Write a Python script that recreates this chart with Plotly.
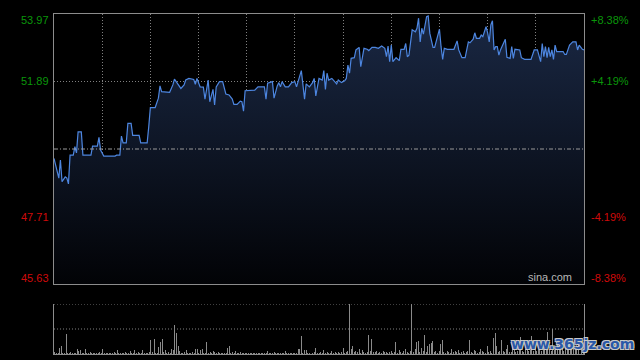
import plotly.graph_objects as go

# ---------------- data ----------------
pre_close = 49.80

minutes = [0, 2, 3, 4, 5, 7, 8, 9, 10, 12, 13, 14, 15, 17, 18, 23, 24, 27, 28, 29,
           31, 38, 39, 41, 42, 43, 45, 46, 48, 49, 53, 54, 58, 59, 60, 63, 65, 66, 67, 72,
           74, 75, 77, 79, 81, 82, 84, 87, 88, 89, 91, 93, 94, 96, 97, 99, 100, 101, 103, 105,
           107, 109, 111, 112, 114, 116, 117, 118, 119, 125, 127, 131, 132, 133, 136, 137, 139, 140, 141, 142,
           144, 146, 148, 150, 151, 154, 156, 157, 159, 161, 162, 163, 165, 167, 168, 169, 170, 171, 173, 174,
           176, 177, 179, 181, 182, 183, 184, 185, 187, 188, 190, 191, 193, 195, 196, 198, 200, 202, 204, 206,
           207, 208, 209, 210, 211, 213, 215, 216, 218, 219, 220, 221, 222, 223, 225, 226, 227, 228, 229, 230,
           232, 233, 234, 236, 237, 239, 240, 241, 242, 243, 245, 247, 249, 251, 252, 254, 256, 258, 259, 261,
           262, 263, 265, 266, 267, 268, 269, 270, 271, 272, 273, 274, 275, 276, 277, 278, 279, 281, 282, 284,
           285, 286, 287, 290, 291, 293, 297, 299, 301, 302, 303, 304, 305, 306, 307, 308, 309, 310, 311, 312,
           313, 317, 318, 319, 321, 323, 325, 326, 327, 329, 330]

prices = [49.51, 49.15, 48.90, 49.46, 48.79, 48.94, 48.90, 48.72, 49.61, 49.61, 49.87, 49.68, 50.33, 50.33, 49.61, 49.61, 49.89, 49.89, 50.16, 49.77,
          49.58, 49.58, 49.61, 49.61, 50.20, 49.99, 49.99, 50.59, 50.59, 50.22, 50.22, 49.99, 49.99, 50.49, 51.08, 51.08, 51.37, 51.75, 51.57, 51.55,
          51.78, 51.96, 51.83, 51.67, 51.78, 51.93, 51.98, 51.95, 51.80, 51.98, 51.72, 51.71, 51.34, 51.93, 51.26, 51.64, 51.16, 51.72, 51.88, 51.88,
          51.50, 51.47, 51.34, 51.18, 51.18, 51.28, 51.26, 50.97, 51.60, 51.62, 51.72, 51.72, 51.34, 51.83, 51.88, 51.37, 51.75, 51.85, 51.72, 51.88,
          51.72, 51.72, 51.85, 51.88, 51.72, 52.22, 51.34, 51.81, 51.72, 51.85, 51.98, 51.44, 51.98, 51.93, 52.22, 51.64, 52.14, 51.93, 51.98, 51.93,
          51.81, 51.93, 51.85, 51.91, 51.98, 52.39, 52.14, 52.60, 52.62, 52.86, 52.94, 52.34, 52.91, 52.88, 52.84, 52.94, 52.94, 52.91, 52.98, 52.91,
          52.65, 52.98, 52.50, 53.01, 52.50, 52.62, 52.53, 52.88, 52.88, 53.06, 52.65, 52.70, 53.04, 53.48, 53.42, 53.53, 53.84, 53.11, 53.53, 53.35,
          53.89, 53.91, 53.37, 52.94, 52.94, 53.32, 53.50, 52.96, 52.57, 52.91, 52.88, 52.88, 52.88, 53.14, 52.86, 52.62, 52.62, 53.11, 53.08, 53.19,
          53.39, 53.22, 53.22, 53.32, 53.27, 53.42, 53.58, 53.39, 53.11, 53.63, 53.76, 52.86, 52.96, 52.96, 52.70, 52.86, 52.96, 53.19, 52.63, 52.60,
          52.96, 52.60, 52.88, 52.86, 52.62, 52.57, 52.57, 52.86, 52.86, 52.67, 52.50, 53.06, 52.65, 52.96, 52.62, 52.94, 52.65, 52.86, 52.57, 53.01,
          52.81, 52.81, 52.72, 52.72, 53.01, 53.11, 53.11, 52.86, 53.01, 52.88, 52.86]

volumes = [2, 1, 1, 6, 8, 1, 1, 20, 1, 1,
           2, 1, 1, 1, 5, 3, 4, 1, 1, 5,
           1, 1, 2, 1, 1, 1, 1, 1, 2, 1,
           5, 1, 1, 1, 1, 1, 1, 2, 1, 4,
           1, 1, 1, 1, 2, 1, 1, 3, 1, 1,
           4, 1, 2, 1, 1, 4, 1, 1, 1, 2,
           14, 2, 15, 1, 1, 7, 12, 15, 2, 4,
           1, 2, 1, 5, 4, 29, 21, 8, 3, 1,
           1, 2, 4, 1, 1, 1, 2, 1, 5, 5,
           1, 4, 5, 1, 1, 12, 1, 2, 1, 3,
           2, 1, 2, 1, 1, 1, 1, 1, 6, 8,
           1, 2, 1, 3, 1, 1, 2, 1, 1, 1,
           1, 1, 1, 1, 1, 1, 1, 1, 1, 1,
           1, 1, 1, 3, 1, 1, 1, 2, 1, 1,
           1, 1, 1, 1, 3, 1, 1, 1, 1, 1,
           1, 1, 5, 5, 18, 1, 4, 4, 1, 1,
           1, 1, 2, 6, 1, 1, 2, 1, 4, 1,
           2, 1, 1, 3, 1, 2, 1, 2, 1, 2,
           6, 1, 2, 3, 60, 5, 8, 2, 3, 2,
           5, 1, 4, 2, 1, 2, 19, 3, 15, 2,
           2, 3, 1, 2, 1, 3, 2, 2, 1, 2,
           3, 1, 2, 12, 1, 4, 2, 1, 3, 5,
           2, 1, 3, 60, 2, 5, 12, 13, 2, 6,
           3, 19, 2, 8, 10, 11, 13, 2, 3, 1,
           3, 10, 14, 2, 1, 3, 2, 1, 5, 2,
           3, 2, 4, 1, 2, 3, 1, 2, 3, 14,
           2, 1, 4, 3, 1, 2, 5, 3, 2, 1,
           8, 2, 3, 1, 16, 21, 8, 2, 3, 14,
           3, 2, 5, 9, 2, 2, 11, 4, 2, 3,
           4, 17, 3, 2, 5, 14, 3, 4, 18, 3,
           6, 3, 4, 8, 3, 5, 7, 4, 22, 5,
           3, 25, 4, 6, 9, 5, 4, 8, 3, 6,
           5, 10, 4, 7, 12, 5, 6, 9, 4, 7,
           3]
volume_minutes = list(range(len(volumes)))

price_ticks = [53.97, 51.89, 47.71, 45.63]
pct_labels = ["+8.38%", "+4.19%", "-4.19%", "-8.38%"]
total_minutes = 330
vol_max = 50

# ---------------- styles ----------------
GREEN = "#0a960a"
RED = "#d00a0a"
GRID = "#808080"
BORDER = "#8c8c8c"
FONT = "Liberation Sans, Arial, sans-serif"

fig = go.Figure()

fig.add_trace(go.Scatter(
    x=minutes, y=prices, mode="lines",
    line=dict(color="#4d86e0", width=1.2),
    fill="tozeroy",
    fillgradient=dict(type="vertical", start=price_ticks[-1], stop=price_ticks[0],
                      colorscale=[[0, "rgb(2,3,6)"], [1, "rgb(26,40,68)"]]),
    xaxis="x", yaxis="y", hoverinfo="skip", showlegend=False,
))

fig.add_trace(go.Bar(
    x=volume_minutes, y=volumes, width=0.62,
    marker=dict(color="#8a8a8a", line=dict(width=0)),
    xaxis="x2", yaxis="y2", hoverinfo="skip", showlegend=False,
))

fig.update_layout(
    width=640, height=360,
    paper_bgcolor="#000000", plot_bgcolor="#000000",
    margin=dict(l=54, r=56, t=14, b=6),
    bargap=0,
    xaxis=dict(domain=[0, 1], range=[0, total_minutes], anchor="y",
               showgrid=True, gridcolor=GRID, griddash="1px,2px", gridwidth=1,
               tick0=0, dtick=30, showticklabels=False, ticks="",
               showline=True, mirror=True, linecolor=BORDER, linewidth=1, zeroline=False),
    yaxis=dict(domain=[70 / 340, 1], range=[price_ticks[-1], price_ticks[0]], anchor="x",
               showgrid=True, gridcolor=GRID, griddash="1px,2px", gridwidth=1,
               tickvals=[price_ticks[1], price_ticks[2]], showticklabels=False, ticks="",
               showline=True, mirror=True, linecolor=BORDER, linewidth=1, zeroline=False),
    xaxis2=dict(domain=[0, 1], range=[-0.5, total_minutes + 0.5], anchor="y2",
                showgrid=False, showticklabels=False, ticks="",
                showline=True, mirror=False, linecolor=BORDER, linewidth=1, zeroline=False),
    yaxis2=dict(domain=[0, 50 / 340], range=[0, vol_max], anchor="x2",
                showgrid=False, showticklabels=False, ticks="",
                showline=True, mirror=True, linecolor=BORDER, linewidth=1, zeroline=False),
)

# pre-close dash-dot line
fig.add_shape(type="line", xref="x domain", yref="y", x0=0, x1=1, y0=pre_close, y1=pre_close,
              line=dict(color="#9a9a9a", width=1, dash="4px,2px,1px,2px"))

# volume panel dotted lines (top and middle)
for frac in (0.5, 1.0):
    fig.add_shape(type="line", xref="x2 domain", yref="y2", x0=0, x1=1,
                  y0=vol_max * frac, y1=vol_max * frac,
                  line=dict(color=GRID, width=1, dash="1px,2px"))

# axis labels
for i, (p, pct) in enumerate(zip(price_ticks, pct_labels)):
    col = GREEN if p > pre_close else RED
    ysh = -6 if i == 0 else (6 if i == len(price_ticks) - 1 else 0)
    fig.add_annotation(x=0, xref="paper", y=p, yref="y", text=f"{p:.2f}", showarrow=False,
                       xanchor="right", yanchor="middle", xshift=-3, yshift=ysh,
                       font=dict(family=FONT, size=11, color=col))
    fig.add_annotation(x=1, xref="paper", y=p, yref="y", text=pct, showarrow=False,
                       xanchor="left", yanchor="middle", xshift=5, yshift=ysh,
                       font=dict(family=FONT, size=11, color=col))

fig.add_annotation(x=1, xref="x domain", y=0, yref="y domain", text="sina.com", showarrow=False,
                   xanchor="right", yanchor="bottom", xshift=-10, yshift=-1,
                   font=dict(family=FONT, size=11, color="#b8b8b8"))

fig.add_annotation(x=1, xref="paper", y=0, yref="paper", text="<b>www.365jz.com</b>", showarrow=False,
                   xanchor="right", yanchor="bottom", xshift=52, yshift=0,
                   font=dict(family="DejaVu Sans", size=14, color="#2a58a8",
                             shadow="-1px -1px 0 #c8c8c8, 1px -1px 0 #c8c8c8, -1px 1px 0 #c8c8c8, 1px 1px 0 #c8c8c8"))

fig.write_html("out.html", config={"displayModeBar": False, "staticPlot": True},
               post_script="document.body.style.margin='0';document.body.style.background='#000';")
